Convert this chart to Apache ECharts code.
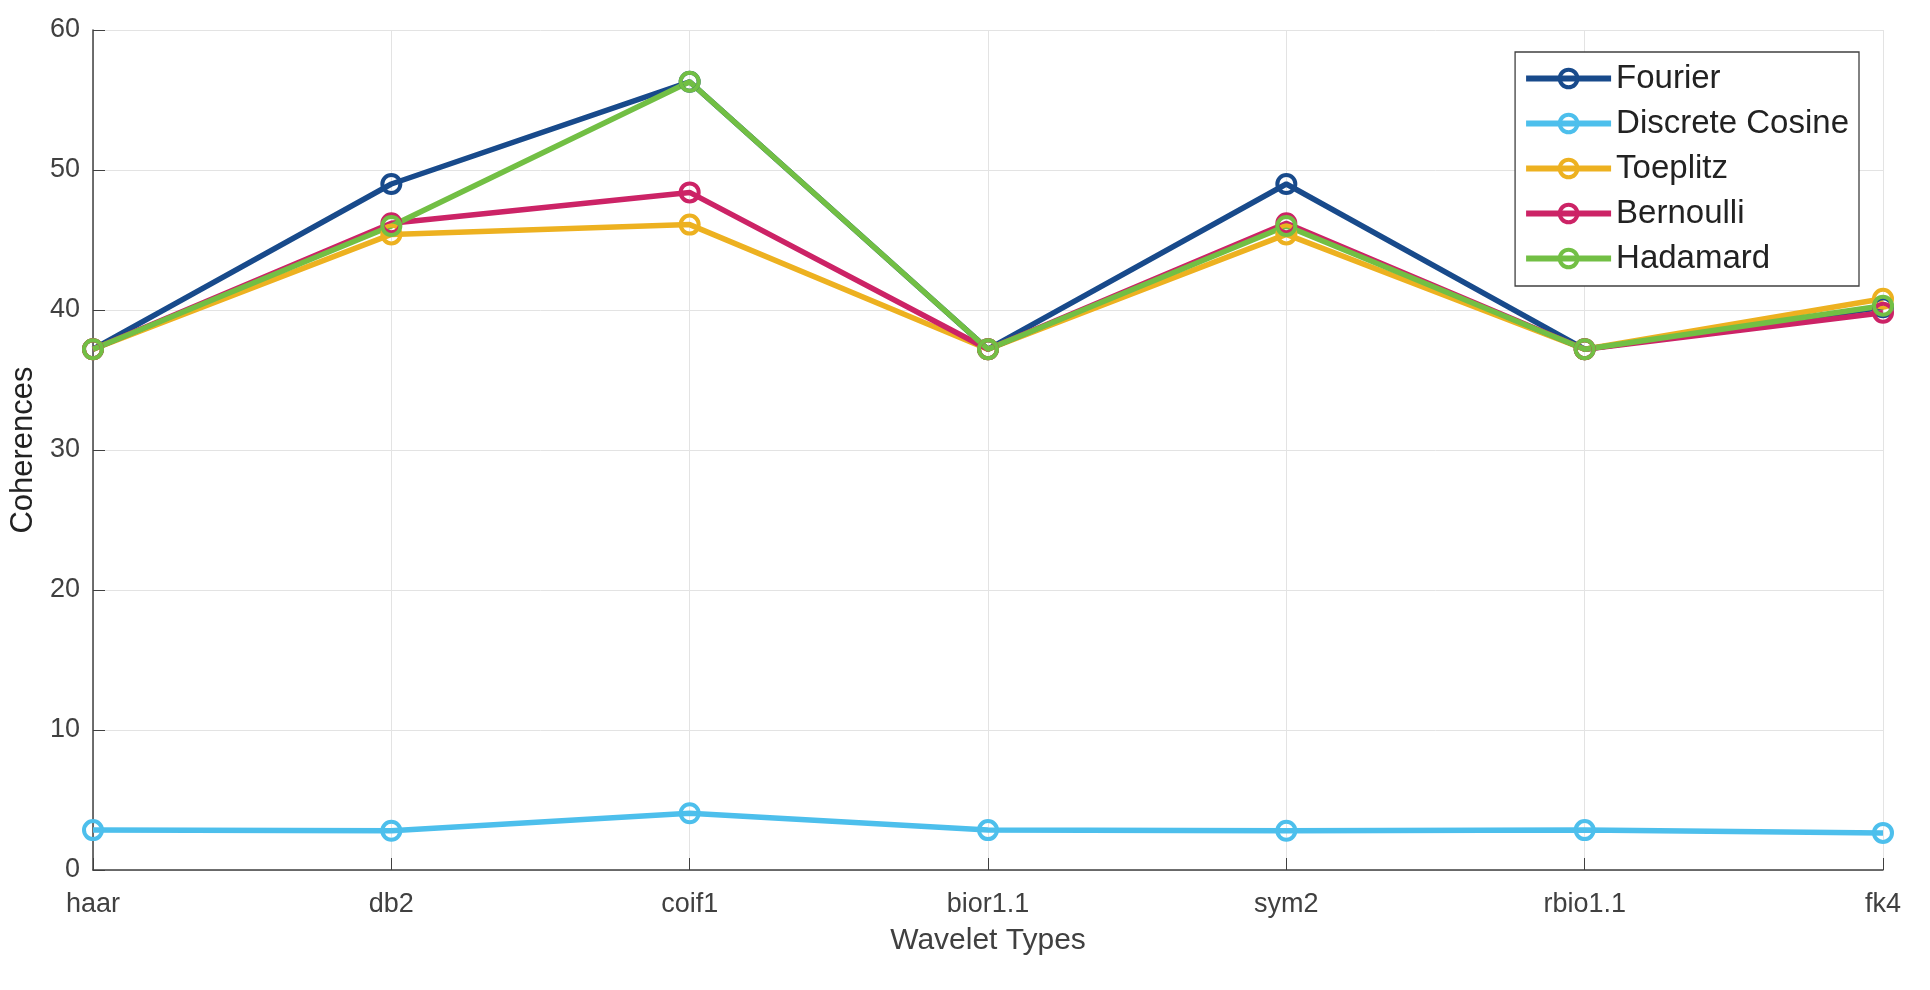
<!DOCTYPE html>
<html><head><meta charset="utf-8">
<script src="https://cdn.jsdelivr.net/npm/echarts@6/dist/echarts.min.js"></script>
<style>html,body{margin:0;padding:0;background:#fff}#c{width:1930px;height:990px}</style>
</head><body><div id="c"></div>
<script>
const categories = ['haar','db2','coif1','bior1.1','sym2','rbio1.1','fk4'];
const fourier   = [37.2, 49.0, 56.3, 37.2, 49.0, 37.2, 40.2];
const dct       = [2.85, 2.8, 4.05, 2.85, 2.8, 2.85, 2.65];
const toeplitz  = [37.2, 45.4, 46.1, 37.2, 45.4, 37.2, 40.8];
const bernoulli = [37.2, 46.2, 48.4, 37.2, 46.2, 37.2, 39.8];
const hadamard  = [37.2, 46.0, 56.3, 37.2, 46.0, 37.2, 40.3];
const seriesNames = ['Fourier','Discrete Cosine','Toeplitz','Bernoulli','Hadamard'];
const seriesData = [fourier, dct, toeplitz, bernoulli, hadamard];
const colors = ['#184A8B','#4DBFEC','#EDB120','#CC2366','#72BF44'];
const FONT = 'Liberation Sans, Arial, sans-serif';

const chart = echarts.init(document.getElementById('c'));
chart.setOption({
  animation:false,
  grid:{left:93, right:47, top:30, bottom:120, containLabel:false, outerBoundsMode:'none'},
  legend:{
    orient:'vertical', right:71, top:52,
    itemWidth:85, itemHeight:22, itemGap:12,
    padding:[10,10,11,8],
    borderColor:'#404040', borderWidth:1.3, backgroundColor:'#fff',
    textStyle:{fontFamily:FONT, fontSize:33, color:'#222'},
    lineStyle:{width:6},
    itemStyle:{borderWidth:4},
    data:seriesNames
  },
  xAxis:{
    type:'category', data:categories, boundaryGap:false,
    name:'Wavelet Types', nameLocation:'middle', nameGap:56,
    nameTextStyle:{fontFamily:FONT, fontSize:30, color:'#404040'},
    axisLine:{lineStyle:{color:'#404040', width:1.5}},
    axisTick:{inside:true, length:12, lineStyle:{color:'#404040'}},
    axisLabel:{fontFamily:FONT, fontSize:27, color:'#404040', margin:21},
    splitLine:{show:true, lineStyle:{color:'#e3e3e3', width:1}}
  },
  yAxis:{
    type:'value', min:0, max:60, interval:10,
    name:'Coherences', nameLocation:'middle', nameGap:53,
    nameTextStyle:{fontFamily:FONT, fontSize:31, color:'#222'},
    axisLine:{show:true, lineStyle:{color:'#404040', width:1.5}},
    axisTick:{show:true, inside:true, length:12, lineStyle:{color:'#404040'}},
    axisLabel:{fontFamily:FONT, fontSize:27, color:'#404040', margin:13},
    splitLine:{show:true, lineStyle:{color:'#e3e3e3', width:1}}
  },
  series: seriesNames.map((n,i)=>({
    name:n, type:'line', data:seriesData[i],
    symbol:'circle', symbolSize:18,
    lineStyle:{color:colors[i], width:5.5},
    itemStyle:{color:'rgba(255,255,255,0)', borderColor:colors[i], borderWidth:4},
    emphasis:{disabled:true}
  }))
});
</script></body></html>
